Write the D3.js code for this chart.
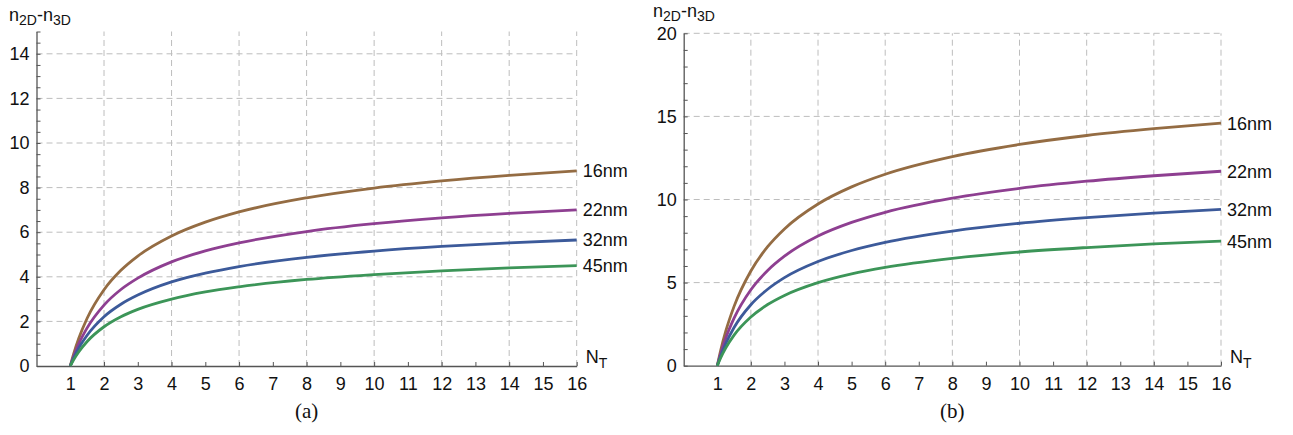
<!DOCTYPE html>
<html>
<head>
<meta charset="utf-8">
<script src="https://cdn.jsdelivr.net/npm/d3@7"></script>
<style>
  body { margin: 0; background: #fff; }
  svg text { font-family: "Liberation Sans", Arial, sans-serif; }
</style>
</head>
<body>
<div id="chart"></div>
<script>
// Sample points along N_T
let nT = [1, 1.1, 1.25, 1.5, 2, 2.5, 3, 4, 5, 6, 8, 10, 12, 14, 16];

// Curve labels (same for both panels)
let nodes = ["16nm", "22nm", "32nm", "45nm"];
let colors = ["#946c43", "#8e3f91", "#3c5a9a", "#3c9558"];

// Panel (a) values
let a16 = [0, 0.54, 1.23, 2.14, 3.42, 4.29, 4.93, 5.83, 6.45, 6.91, 7.54, 7.98, 8.30, 8.55, 8.75];
let a22 = [0, 0.43, 0.99, 1.71, 2.73, 3.43, 3.94, 4.67, 5.16, 5.52, 6.03, 6.38, 6.64, 6.84, 7.00];
let a32 = [0, 0.35, 0.80, 1.38, 2.21, 2.77, 3.18, 3.77, 4.16, 4.46, 4.87, 5.15, 5.36, 5.52, 5.65];
let a45 = [0, 0.28, 0.63, 1.10, 1.76, 2.21, 2.54, 3.00, 3.32, 3.55, 3.88, 4.10, 4.27, 4.40, 4.50];

// Panel (b) values
let b16 = [0, 0.91, 2.06, 3.57, 5.70, 7.16, 8.23, 9.73, 10.76, 11.52, 12.58, 13.31, 13.85, 14.26, 14.60];
let b22 = [0, 0.73, 1.65, 2.86, 4.57, 5.73, 6.59, 7.80, 8.62, 9.23, 10.08, 10.67, 11.10, 11.43, 11.70];
let b32 = [0, 0.58, 1.32, 2.30, 3.67, 4.60, 5.30, 6.27, 6.93, 7.42, 8.10, 8.57, 8.91, 9.18, 9.40];
let b45 = [0, 0.47, 1.06, 1.84, 2.93, 3.68, 4.23, 5.00, 5.53, 5.92, 6.46, 6.84, 7.11, 7.33, 7.50];

// Tick values
let xTicks = d3.range(1, 17);
let xGrid = [2, 4, 6, 8, 10, 12, 14, 16];
let aYTicks = [0, 2, 4, 6, 8, 10, 12, 14];
let aYMinor = d3.range(0, 15.01, 0.5);
let bYTicks = [0, 5, 10, 15, 20];
let bYMinor = d3.range(0, 20.01, 1);

let svgWidth = 1293;
let svgHeight = 435;

let svg = d3.select("#chart")
    .append("svg")
    .attr("width", svgWidth)
    .attr("height", svgHeight);

function drawPanel(p) {
    let g = svg.append("g");

    let x = d3.scaleLinear().domain([0, 16]).range([p.left, p.right]);
    let y = d3.scaleLinear().domain([0, p.yMax]).range([p.bottom, p.top]);

    // Dashed grid
    g.selectAll(".vgrid")
        .data(xGrid)
        .enter()
        .append("line")
        .attr("x1", d => x(d)).attr("x2", d => x(d))
        .attr("y1", y(0)).attr("y2", y(p.yMax))
        .attr("stroke", "#bdbdbd")
        .attr("stroke-dasharray", "6,4");

    g.selectAll(".hgrid")
        .data(p.yGrid)
        .enter()
        .append("line")
        .attr("x1", x(0)).attr("x2", x(16))
        .attr("y1", d => y(d)).attr("y2", d => y(d))
        .attr("stroke", "#bdbdbd")
        .attr("stroke-dasharray", "6,4");

    // Axes
    let bottomAxis = d3.axisBottom(x)
        .tickValues(xTicks)
        .tickSizeInner(-4)
        .tickSizeOuter(0)
        .tickPadding(10);
    let xg = g.append("g")
        .attr("transform", `translate(0, ${y(0)})`)
        .call(bottomAxis);

    let leftAxis = d3.axisLeft(y)
        .tickValues(p.yMinor)
        .tickSizeInner(-4)
        .tickSizeOuter(0)
        .tickPadding(7)
        .tickFormat(d => p.yTicks.includes(d) ? d : "");
    let yg = g.append("g")
        .attr("transform", `translate(${x(0)}, 0)`)
        .call(leftAxis);

    [xg, yg].forEach(ax => {
        ax.select(".domain").attr("stroke", "#555").attr("stroke-width", 1.3);
        ax.selectAll(".tick line").attr("stroke", "#555");
        ax.selectAll(".tick text")
            .attr("fill", "#111")
            .style("font-size", "18px")
            .style("font-family", "'Liberation Sans', Arial, sans-serif");
    });
    xg.selectAll(".tick text").attr("dy", "0.8em");

    // Curves
    let line = d3.line()
        .x((d, i) => x(nT[i]))
        .y(d => y(d))
        .curve(d3.curveMonotoneX);

    g.selectAll(".curve")
        .data(p.series)
        .enter()
        .append("path")
        .attr("d", d => line(d))
        .attr("fill", "none")
        .attr("stroke", (d, i) => colors[i])
        .attr("stroke-width", 2.8);

    // Curve labels
    g.selectAll(".lab")
        .data(p.series)
        .enter()
        .append("text")
        .attr("x", x(16) + 6)
        .attr("y", d => y(d[d.length - 1]))
        .attr("dy", "0.36em")
        .style("font-size", "18px")
        .attr("fill", "#111")
        .text((d, i) => nodes[i]);

    // Y axis title n_2D - n_3D
    let yt = g.append("text")
        .attr("x", p.yTitleX)
        .attr("y", p.yTitleY)
        .style("font-size", "18px")
        .attr("fill", "#111");
    yt.append("tspan").text("n");
    yt.append("tspan").attr("dy", 4).style("font-size", "14px").text("2D");
    yt.append("tspan").attr("dy", -4).text("-n");
    yt.append("tspan").attr("dy", 4).style("font-size", "14px").text("3D");

    // X axis title N_T
    let xt = g.append("text")
        .attr("x", x(16) + 9)
        .attr("y", y(0) - 3)
        .style("font-size", "18px")
        .attr("fill", "#111");
    xt.append("tspan").text("N");
    xt.append("tspan").attr("dy", 5).style("font-size", "14px").text("T");

    // Panel caption
    g.append("text")
        .attr("x", (p.left + p.right) / 2)
        .attr("y", 418)
        .attr("text-anchor", "middle")
        .style("font-family", "'Liberation Serif', 'Times New Roman', serif")
        .style("font-size", "21px")
        .attr("fill", "#111")
        .text(p.caption);
}

drawPanel({
    left: 36.5, right: 576.7, top: 31.5, bottom: 366, yMax: 15,
    yTicks: aYTicks, yMinor: aYMinor, yGrid: [2, 4, 6, 8, 10, 12, 14],
    series: [a16, a22, a32, a45],
    yTitleX: 9, yTitleY: 21, caption: "(a)"
});

drawPanel({
    left: 683.7, right: 1221, top: 33.3, bottom: 365.7, yMax: 20,
    yTicks: bYTicks, yMinor: bYMinor, yGrid: [5, 10, 15, 20],
    series: [b16, b22, b32, b45],
    yTitleX: 653, yTitleY: 17, caption: "(b)"
});
</script>
</body>
</html>
